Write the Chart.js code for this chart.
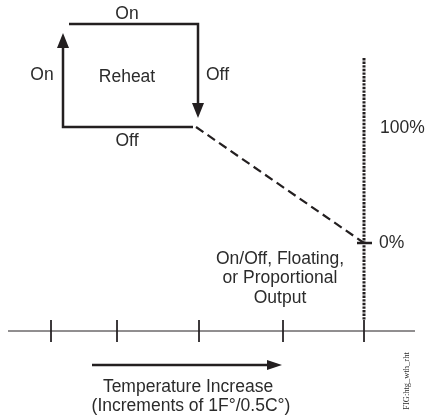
<!DOCTYPE html>
<html>
<head>
<meta charset="utf-8">
<script src="https://cdn.jsdelivr.net/npm/chart.js@4/dist/chart.umd.min.js"></script>
<style>
  html, body { margin: 0; padding: 0; background: #fff; }
  #wrap { width: 427px; height: 417px; }
</style>
</head>
<body>
<div id="wrap"><canvas id="diagram" width="427" height="417"></canvas></div>
<script>
// diagram coordinates (x to the right, y downward, same span as the picture)
const tempTicks = [51, 117, 199, 283, 364];          // temperature increments on the axis
const reheatOnPath = [[69, 24], [198, 24], [198, 110]];  // "On" across top, "Off" down the right
const reheatOffPath = [[193, 127], [63, 127], [63, 40]]; // "Off" along bottom, "On" up the left
const outputRamp = [[196, 127], [364, 243]];         // 100% -> 0% output
const outputScale = [[364, 58], [364, 320]];         // dotted output scale
const zeroMark = [[357, 243], [372, 243]];
const tempAxis = [[8, 331], [415, 331]];
const tempArrow = [[92, 365], [270, 365]];
const arrowHeads = [[63, 40.5, 0], [198, 110.5, 180], [274.5, 365, 90]];

const labels = [
  { text: 'On', x: 127, y: 14 },
  { text: 'On', x: 42, y: 75 },
  { text: 'Reheat', x: 127, y: 77 },
  { text: 'Off', x: 206, y: 75, align: 'left' },
  { text: 'Off', x: 127, y: 141 },
  { text: '100%', x: 380, y: 128, align: 'left' },
  { text: '0%', x: 379, y: 243, align: 'left' },
  { text: 'On/Off, Floating,', x: 280, y: 259 },
  { text: 'or Proportional', x: 280, y: 278 },
  { text: 'Output', x: 280, y: 298 },
  { text: 'Temperature Increase', x: 188, y: 387 },
  { text: '(Increments of 1F°/0.5C°)', x: 191, y: 406 }
];

const INK = '#231f20';

function pts(list) {
  return list.map(p => ({ x: p[0], y: p[1] }));
}

function head(w, h) {
  const c = document.createElement('canvas');
  c.width = w; c.height = h;
  const g = c.getContext('2d');
  g.fillStyle = INK;
  g.beginPath();
  g.moveTo(w / 2, 0);
  g.lineTo(w, h);
  g.lineTo(0, h);
  g.closePath();
  g.fill();
  return c;
}
const vHead = head(12, 15);
const hHead = head(10, 15);

function lineSet(list, width, dash) {
  return {
    data: pts(list),
    showLine: true,
    borderColor: INK,
    borderWidth: width,
    borderDash: dash || [],
    borderCapStyle: 'butt',
    pointRadius: 0,
    tension: 0
  };
}

const datasets = [
  lineSet(reheatOnPath, 2.5),
  lineSet(reheatOffPath, 2.5),
  lineSet(outputRamp, 2.2, [9, 5]),
  lineSet(outputScale, 3, [2.4, 1.2]),
  lineSet(zeroMark, 2.5),
  lineSet(tempAxis, 1),
  lineSet(tempArrow, 2.5)
];
tempTicks.forEach(t => {
  datasets.push(lineSet([[t, 320], [t, 342]], 1));
});
datasets.push({
  data: pts(arrowHeads),
  showLine: false,
  pointStyle: [vHead, vHead, hHead],
  pointRotation: arrowHeads.map(a => a[2]),
  pointRadius: 6,
  pointBackgroundColor: INK,
  pointBorderWidth: 0
});

const textPlugin = {
  id: 'diagramText',
  afterDatasetsDraw(chart) {
    const ctx = chart.ctx;
    const sx = chart.scales.x, sy = chart.scales.y;
    ctx.save();
    ctx.fillStyle = '#2b2b2b';
    ctx.font = '17.5px "Liberation Sans", Arial, sans-serif';
    ctx.textBaseline = 'middle';
    labels.forEach(l => {
      ctx.textAlign = l.align || 'center';
      ctx.fillText(l.text, sx.getPixelForValue(l.x), sy.getPixelForValue(l.y));
    });
    // figure tag, rotated
    ctx.translate(sx.getPixelForValue(407), sy.getPixelForValue(381));
    ctx.rotate(-Math.PI / 2);
    ctx.font = '8.5px "Liberation Serif", serif';
    ctx.textAlign = 'center';
    ctx.fillText('FIG:htg_wth_rht', 0, 0);
    ctx.restore();
  }
};

new Chart(document.getElementById('diagram'), {
  type: 'scatter',
  data: { datasets: datasets },
  options: {
    responsive: false,
    animation: false,
    layout: { padding: 0, autoPadding: false },
    plugins: {
      legend: { display: false },
      tooltip: { enabled: false }
    },
    scales: {
      x: { type: 'linear', min: 0, max: 427, display: false },
      y: { type: 'linear', min: 0, max: 417, reverse: true, display: false }
    }
  },
  plugins: [textPlugin]
});
</script>
</body>
</html>
